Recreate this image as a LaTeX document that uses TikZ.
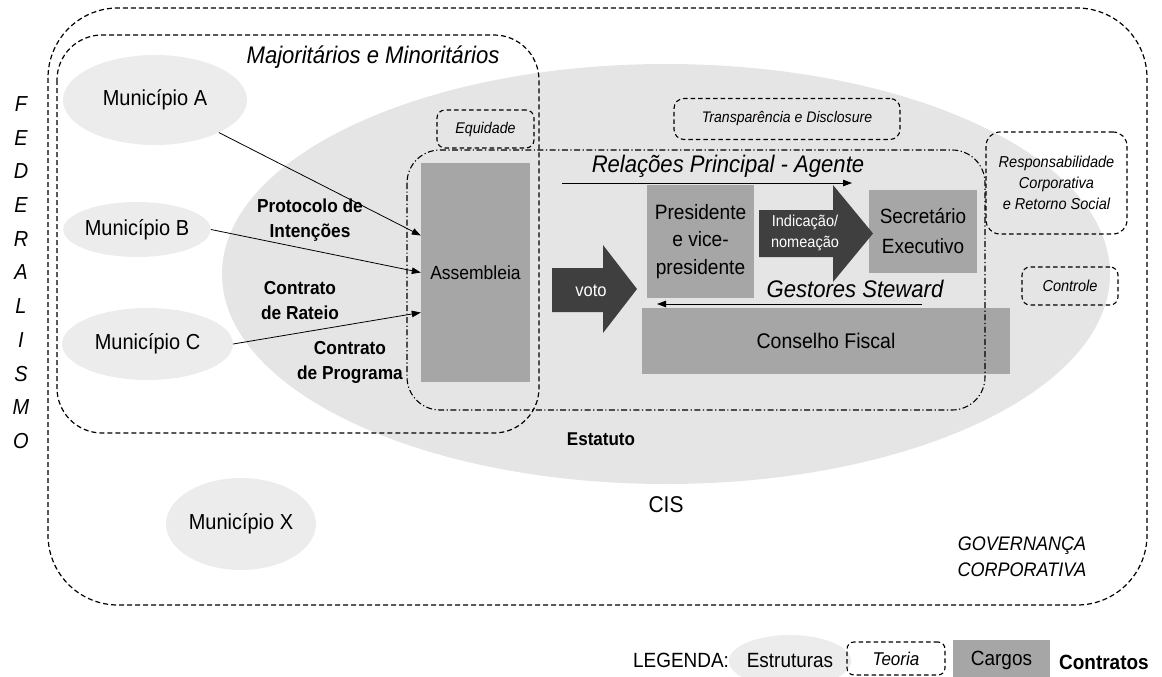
\documentclass[tikz,border=0pt]{standalone}
\usepackage{fontspec}
\setmainfont{Liberation Sans}[FakeStretch=0.92]
\usetikzlibrary{arrows.meta,calc,shapes.geometric}

\definecolor{cisgray}{HTML}{E5E5E5}
\definecolor{mungray}{HTML}{ECECEC}
\definecolor{cargogray}{HTML}{A6A6A6}
\definecolor{darkarrow}{HTML}{3F3F3F}

\begin{document}
\begin{tikzpicture}[x=1pt,y=-1pt,
  every node/.style={inner sep=0pt, align=center},
  txt/.style={font=\fontsize{#1}{24}\selectfont},
  itxt/.style={font=\fontsize{#1}{24}\selectfont\itshape},
  btxt/.style={font=\fontsize{#1}{25}\selectfont\bfseries},
  estrutura/.style={ellipse, fill=mungray},
  cargo/.style={rectangle, fill=cargogray},
  teoria/.style={rectangle, draw=black, line width=1.1pt, dash pattern=on 4.5pt off 3pt, rounded corners=#1},
  frame/.style={draw=black, line width=1.2pt, dash pattern=on 5pt off 3pt},
  dashdot/.style={draw=black, line width=1.1pt, dash pattern=on 6pt off 2.5pt on 1.2pt off 2.5pt},
  conn/.style={draw=black, line width=0.8pt, -{Triangle[length=9pt,width=6.5pt]}},
  blockarrow/.style={fill=darkarrow}
]
\useasboundingbox (0,0) rectangle (1162,677);

% the consortium (CIS) as the large background structure
\node[ellipse, fill=cisgray, minimum width=888pt, minimum height=420pt] (cis) at (666,274) {};

% member municipalities
\node[estrutura, minimum width=184pt, minimum height=90pt, txt=21.7] (mA) at (155,100) {Município A};
\node[estrutura, minimum width=132pt, minimum height=55pt, txt=21.7] (mB) at (137,229.5) {Município B};
\node[estrutura, minimum width=171pt, minimum height=72pt, txt=21.7] (mC) at (147.5,344) {Município C};
\node[estrutura, minimum width=150pt, minimum height=92pt, txt=21.7] (mX) at (241,524) {Município X};

% governing bodies
\node[cargo, minimum width=109pt, minimum height=219pt, txt=19] (asm) at (475.5,272.5) {Assembleia};
\node[cargo, minimum width=107pt, minimum height=113pt, font=\fontsize{20.8}{27.5}\selectfont] (pres) at (700.5,241.5) {Presidente\\e vice-\\presidente};
\node[cargo, minimum width=108pt, minimum height=83pt, font=\fontsize{20.6}{30}\selectfont] (sec) at (923,231.5) {Secretário\\Executivo};
\node[cargo, minimum width=368pt, minimum height=66pt, txt=21.2] (cf) at (826,341) {Conselho Fiscal};

% block arrows
\fill[blockarrow] (552,268) -- (603,268) -- (603,245) -- (637,289) -- (603,333) -- (603,312) -- (552,312) -- cycle;
\node[txt=18, text=white] (voto) at (591,291) {voto};
\fill[blockarrow] (759,210) -- (833,210) -- (833,185) -- (873,233.5) -- (833,282) -- (833,257) -- (759,257) -- cycle;
\node[font=\fontsize{15.8}{21}\selectfont, text=white] (ind) at (805,233) {Indicação/\\nomeação};

% frames: corporate governance, shareholders, internal relations
\draw[frame, rounded corners=70pt] (48,8) rectangle (1147,605);
\draw[frame, rounded corners=45pt] (57,35) rectangle (539,433);
\draw[dashdot, rounded corners=33pt] (407,150) rectangle (985,410);

% theory boxes
\node[teoria=8pt, minimum width=97pt, minimum height=38pt, itxt=15.5] (eq) at (485.5,129) {Equidade};
\node[teoria=10pt, minimum width=226pt, minimum height=41pt, itxt=15.3] (tr) at (787,119) {Transparência e Disclosure};
\node[teoria=14pt, minimum width=141pt, minimum height=102pt, font=\fontsize{15.8}{21}\selectfont\itshape] (resp) at (1056.5,183) {Responsabilidade\\Corporativa\\e Retorno Social};
\node[teoria=8pt, minimum width=96pt, minimum height=38pt, itxt=15.8] (ctrl) at (1070,286) {Controle};

% contracts linking municipalities to the assembly
\draw[conn] (mA) -- ([yshift=37pt]asm.west);
\draw[conn] (mB.east) -- (asm.west);
\draw[conn] (mC.east) -- ([yshift=-40pt]asm.west);

% principal-agent and steward relations
\coordinate (ra) at (562,183);
\coordinate (rb) at (852,183);
\draw[conn] (ra) -- (rb);
\coordinate (ga) at (922,304);
\coordinate (gb) at (657,304);
\draw[conn] (ga) -- (gb);

% labels
\node[itxt=24] (maj) at (373,57) {Majoritários e Minoritários};
\node[itxt=24] (rel) at (728,166) {Relações Principal - Agente};
\node[itxt=24] (gest) at (855,289) {Gestores Steward};
\node[btxt=18.8] (prot) at (310,220) {Protocolo de\\Intenções};
\node[btxt=18.8] (rat) at (300,301) {Contrato\\de Rateio};
\node[btxt=18.8] (prog) at (350,362) {Contrato\\de Programa};
\node[btxt=18.5] (est) at (601,439) {Estatuto};
\node[txt=22.8] (cisl) at (666,505) {CIS};
\node[font=\fontsize{19.6}{26}\selectfont\itshape] (gov) at (1022,557) {GOVERNANÇA\\CORPORATIVA};

% federalism, written vertically
\foreach \l [count=\i] in {F,E,D,E,R,A,L,I,S,M,O}
  \node[itxt=21.7] (fed\i) at (21,{104+33.7*(\i-1)}) {\l};

% legend
\node[txt=20.6] (leg) at (681,660) {LEGENDA:};
\node[estrutura, minimum width=105pt, minimum height=52pt, txt=20.6] (legE) at (790,661) {Estruturas};
\node[teoria=7pt, minimum width=98pt, minimum height=33pt, itxt=18.5] (legT) at (896,658.5) {Teoria};
\node[cargo, minimum width=97pt, minimum height=40pt, txt=20.6] (legC) at (1001.5,660) {Cargos};
\node[btxt=20.6, anchor=west] (legK) at (1059,662) {Contratos};
\end{tikzpicture}
\end{document}
